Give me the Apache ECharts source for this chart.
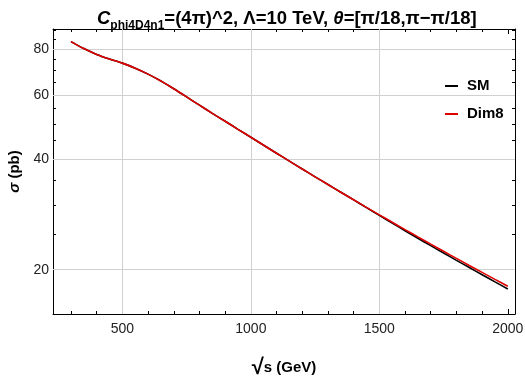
<!DOCTYPE html>
<html><head><meta charset="utf-8">
<script src="https://cdn.jsdelivr.net/npm/echarts@6/dist/echarts.min.js"></script>
<style>html,body{margin:0;padding:0;background:#fff}#c{width:525px;height:377px}</style>
</head><body><div id="c"></div>
<script>
const energy = [300,350,400,450,500,550,600,650,700,750,800,850,900,950,1000,1050,1100,1150,1200,1250,1300,1350,1400,1450,1500,1550,1600,1650,1700,1750,1800,1850,1900,1950,2000];
const sigmaDim8 = [83.8,80.2,77.3,75.1,73.2,70.9,68.3,65.4,62.3,59.2,56.2,53.4,50.8,48.3,45.95,43.7,41.57,39.55,37.64,35.84,34.14,32.54,31.02,29.58,28.22,26.94,25.72,24.57,23.48,22.45,21.47,20.54,19.66,18.82,18.03];
const sigmaSM   = [83.8,80.2,77.3,75.1,73.2,70.9,68.3,65.4,62.3,59.2,56.2,53.4,50.8,48.3,45.95,43.7,41.57,39.55,37.64,35.84,34.14,32.54,31.0,29.54,28.13,26.81,25.55,24.37,23.26,22.21,21.21,20.28,19.38,18.52,17.72];
const xMajor = [500,1000,1500,2000];
const xMinor = [300,400,600,700,800,900,1100,1200,1300,1400,1600,1700,1800,1900];
const xGrid = [500,1000,1500];
const yMajor = [20,40,60,80];
const yMinor = [25,30,35,45,50,55,65,70,75,85,90];
const yGrid = [20,40,60,80];

const X_MIN = 230, X_MAX = 2028, Y_MIN = 15.14, Y_MAX = 90.7;
const FONT = 'Liberation Sans';

function xAx(pos, vals, len, showLine, showLabel, extra) {
  return Object.assign({
    type: 'value', position: pos, min: X_MIN, max: X_MAX,
    splitLine: { show: false },
    axisLine: { show: showLine, onZero: false, lineStyle: { color: '#000', width: 1 } },
    axisTick: { show: true, inside: true, length: len, customValues: vals, lineStyle: { color: '#000', width: 1 } },
    axisLabel: { show: showLabel, customValues: vals, margin: 8, fontSize: 14, color: '#222', fontFamily: FONT,
      formatter: v => String(Math.round(v)) }
  }, extra || {});
}
function yAx(pos, vals, len, showLine, showLabel, extra) {
  return Object.assign({
    type: 'log', logBase: 10, position: pos, min: Y_MIN, max: Y_MAX,
    splitLine: { show: false },
    axisLine: { show: showLine, onZero: false, lineStyle: { color: '#000', width: 1 } },
    axisTick: { show: true, inside: true, length: len, customValues: vals, lineStyle: { color: '#000', width: 1 } },
    axisLabel: { show: showLabel, customValues: vals, margin: 4, fontSize: 14, color: '#222', fontFamily: FONT,
      formatter: v => String(Math.round(v)) }
  }, extra || {});
}

const chart = echarts.init(document.getElementById('c'), null, { renderer: 'canvas' });
const gridLines = xGrid.map(v => ({ xAxis: v })).concat(yGrid.map(v => ({ yAxis: v })));
chart.setOption({
  animation: false,
  backgroundColor: '#fff',
  title: {
    text: '{ci|C}{sub|phi4D4n1}{b|=(4π)^2, Λ=10 TeV, }{ci|θ}{b|=[π/18,π−π/18]}',
    left: 92, top: 4,
    textStyle: {
      rich: {
        ci: { fontFamily: FONT, fontSize: 18.5, fontWeight: 'bold', fontStyle: 'italic', color: '#000', verticalAlign: 'bottom', padding: [0, 0, 4, 0] },
        b: { fontFamily: FONT, fontSize: 18.5, fontWeight: 'bold', color: '#000', verticalAlign: 'bottom', padding: [0, 0, 4, 0] },
        sub: { fontFamily: FONT, fontSize: 12, fontWeight: 'bold', color: '#000', verticalAlign: 'bottom' }
      }
    }
  },
  grid: { left: 53, right: 10, top: 29, bottom: 63, outerBoundsMode: 'none', containLabel: false },
  legend: {
    left: 440, top: 73, orient: 'vertical', itemWidth: 13, itemHeight: 2, itemGap: 12,
    icon: 'rect',
    data: ['SM', 'Dim8'],
    textStyle: { fontFamily: FONT, fontSize: 15, fontWeight: 'bold', color: '#000', lineHeight: 16, padding: [0, 0, 0, 4] }
  },
  xAxis: [
    xAx('bottom', xMajor, 5, true, true, {
      name: '{sq|√}{b|s (GeV)}', nameLocation: 'middle', nameGap: 43,
      nameTextStyle: { rich: {
        sq: { fontFamily: FONT, fontSize: 22, fontWeight: 'bold', color: '#000' },
        b: { fontFamily: FONT, fontSize: 15, fontWeight: 'bold', color: '#000' } } }
    }),
    xAx('bottom', xMinor, 3, false, false),
    xAx('top', xMajor, 5, true, false),
    xAx('top', xMinor, 3, false, false)
  ],
  yAxis: [
    yAx('left', yMajor, 5, true, true, {
      name: '{si|σ}{b| (pb)}', nameLocation: 'middle', nameGap: 30, nameRotate: 90,
      nameTextStyle: { rich: {
        si: { fontFamily: FONT, fontSize: 15, fontWeight: 'bold', fontStyle: 'italic', color: '#000' },
        b: { fontFamily: FONT, fontSize: 15, fontWeight: 'bold', color: '#000' } } }
    }),
    yAx('left', yMinor, 3, false, false),
    yAx('right', yMajor, 5, true, false),
    yAx('right', yMinor, 3, false, false)
  ],
  series: [
    {
      name: 'SM', type: 'line', xAxisIndex: 0, yAxisIndex: 0, symbol: 'none', smooth: 0.25,
      lineStyle: { color: '#000', width: 1.6 }, itemStyle: { color: '#000' },
      data: energy.map((e, i) => [e, sigmaSM[i]]), z: 3,
      markLine: { silent: true, symbol: 'none', z: 1, label: { show: false },
        lineStyle: { color: '#d0d0d0', width: 1, type: 'solid' }, data: gridLines }
    },
    {
      name: 'Dim8', type: 'line', xAxisIndex: 0, yAxisIndex: 0, symbol: 'none', smooth: 0.25,
      lineStyle: { color: '#e00000', width: 1.6 }, itemStyle: { color: '#e00000' },
      data: energy.map((e, i) => [e, sigmaDim8[i]]), z: 4
    }
  ]
});
</script>
</body></html>
